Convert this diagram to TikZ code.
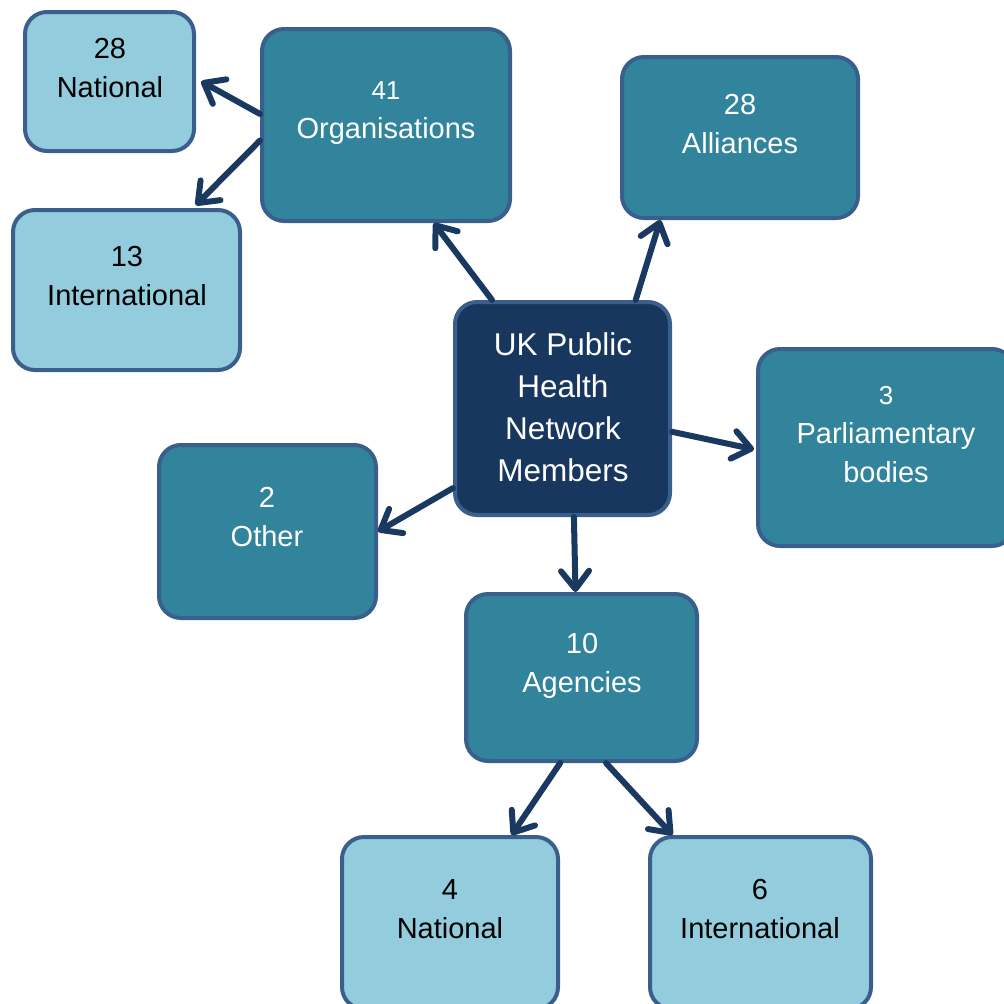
\documentclass[tikz,border=0pt]{standalone}
\usepackage{fontspec}
\setmainfont{Liberation Sans}
\usetikzlibrary{arrows.meta}
\definecolor{lightfill}{HTML}{93CDDD}
\definecolor{midfill}{HTML}{31849B}
\definecolor{darkfill}{HTML}{17375E}
\definecolor{boxedge}{HTML}{3A5F8D}
\definecolor{arrowcol}{HTML}{1A3960}
\tikzset{
  box/.style={draw=boxedge, line width=4pt, rounded corners=22pt, inner sep=0pt, rectangle},
  lightbox/.style={box, fill=lightfill},
  midbox/.style={box, fill=midfill},
  darkbox/.style={box, fill=darkfill},
  txt/.style={align=center, inner sep=0pt, font=\fontsize{29}{39}\selectfont},
  arr/.style={draw=arrowcol, line width=6pt, line cap=round,
     -{Straight Barb[length=18pt,width=28pt,round]}},
}
\newcommand{\smallnum}[1]{{\fontsize{26}{39}\selectfont #1}}
\begin{document}
\begin{tikzpicture}[x=1pt,y=-1pt]
\useasboundingbox (0,0) rectangle (1004,1004);
\clip (0,0) rectangle (1004,1004);
% boxes
\node[lightbox, minimum width=169pt, minimum height=139pt] (nat28) at (109.5,81.5) {};
\node[lightbox, minimum width=227pt, minimum height=160pt] (int13) at (126.5,290) {};
\node[midbox, minimum width=248pt, minimum height=192pt] (org) at (386,125) {};
\node[midbox, minimum width=236pt, minimum height=161pt] (all) at (740,137.5) {};
\node[darkbox, minimum width=215pt, minimum height=213pt] (ctr) at (562.5,408.5) {};
\node[midbox, minimum width=256pt, minimum height=197pt] (parl) at (886,447.5) {};
\node[midbox, minimum width=217pt, minimum height=173pt] (oth) at (267.5,531.5) {};
\node[midbox, minimum width=231pt, minimum height=167pt] (age) at (581.5,677.5) {};
\node[lightbox, minimum width=216pt, minimum height=172pt] (nat4) at (450,923) {};
\node[lightbox, minimum width=221pt, minimum height=172pt] (int6) at (760.5,923) {};
% texts
\node[txt, text=black] (tnat28) at (110,68) {28\\National};
\node[txt, text=black] (tint13) at (127,276) {13\\International};
\node[txt, text=white] (torg) at (386,113) {\smallnum{41}\\Organisations};
\node[txt, text=white] (tall) at (740,124) {28\\Alliances};
\node[txt, text=white, font=\fontsize{31.5}{42}\selectfont] (tctr) at (563,407) {UK Public\\Health\\Network\\Members};
\node[txt, text=white] (tparl) at (886,435) {\smallnum{3}\\Parliamentary\\bodies};
\node[txt, text=white] (toth) at (267,517) {2\\Other};
\node[txt, text=white] (tage) at (582,666) {10\\Agencies};
\node[txt, text=black] (tnat4) at (450,909) {4\\National};
\node[txt, text=black] (tint6) at (760,909) {6\\International};
% arrows
\draw[arr] (ctr.123.7) -- (org.296.1);
\draw[arr] (ctr.56.7) -- (all.226.6);
\draw[arr, shorten >=2pt] (ctr.-12.1) -- (parl.181);
\draw[arr] (ctr.216) -- (oth.0.8);
\draw[arr] (ctr.276.7) -- (age.94.45);
\draw[arr, shorten >=6pt] (org.175.8) -- (nat28.2.1);
\draw[arr, shorten >=4pt] (org.187.4) -- (int13.51.8);
\draw[arr] (age.256.2) -- (nat4.55.3);
\draw[arr] (age.286.8) -- (int6.135.5);
\end{tikzpicture}
\end{document}
